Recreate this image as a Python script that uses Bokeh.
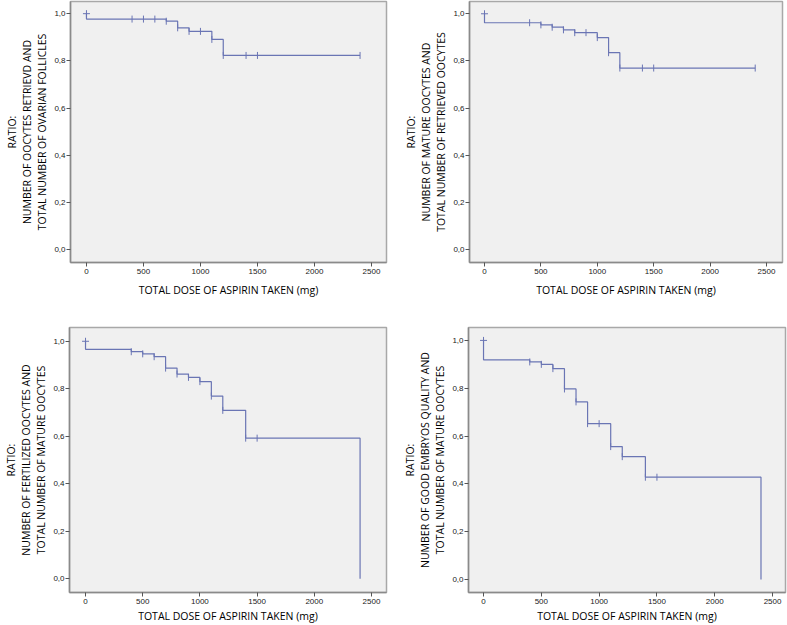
from bokeh.plotting import figure
from bokeh.layouts import row, column
from bokeh.models import FixedTicker, Range1d
from bokeh.embed import file_html
from bokeh.resources import INLINE
import numpy as np

# ---- shared axis data ----
x_ticks = [0, 500, 1000, 1500, 2000, 2500]
y_ticks = [0.0, 0.2, 0.4, 0.6, 0.8, 1.0]
y_tick_labels = ["0,0", "0,2", "0,4", "0,6", "0,8", "1,0"]
x_label = "TOTAL DOSE OF ASPIRIN TAKEN (mg)"

# ---- panel A: oocytes retrieved / ovarian follicles ----
a_ylabel = "RATIO:\nNUMBER OF OOCYTES RETRIEVD AND\nTOTAL NUMBER OF OVARIAN FOLLICLES"
a_times = [0, 0, 700, 800, 900, 1100, 1200, 2400]
a_surv = [1.0, 0.977, 0.968, 0.940, 0.925, 0.891, 0.823, 0.823]
a_censor = [400, 500, 600, 700, 800, 900, 1000, 1100, 1200, 1400, 1500, 2400]

# ---- panel B: mature oocytes / retrieved oocytes ----
b_ylabel = "RATIO:\nNUMBER OF MATURE OOCYTES AND\nTOTAL NUMBER OF RETRIEVED OOCYTES"
b_times = [0, 0, 500, 600, 700, 800, 1000, 1100, 1200, 2400]
b_surv = [1.0, 0.962, 0.953, 0.943, 0.932, 0.920, 0.899, 0.835, 0.770, 0.770]
b_censor = [400, 500, 600, 700, 800, 900, 1000, 1100, 1200, 1400, 1500, 2400]

# ---- panel C: fertilized oocytes / mature oocytes ----
c_ylabel = "RATIO:\nNUMBER OF FERTILIZED OOCYTES AND\nTOTAL NUMBER OF MATURE OOCYTES"
c_times = [0, 0, 400, 500, 600, 700, 800, 900, 1000, 1100, 1200, 1400, 2400]
c_surv = [1.0, 0.966, 0.956, 0.947, 0.935, 0.887, 0.862, 0.848, 0.830, 0.769, 0.709, 0.592, 0.0]
c_censor = [400, 500, 600, 700, 800, 900, 1000, 1100, 1200, 1400, 1500]

# ---- panel D: good quality embryos / mature oocytes ----
d_ylabel = "RATIO:\nNUMBER OF GOOD EMBRYOS QUALITY AND\nTOTAL NUMBER OF MATURE OOCYTES"
d_times = [0, 0, 400, 500, 600, 700, 800, 900, 1100, 1200, 1400, 2400]
d_surv = [1.0, 0.919, 0.910, 0.900, 0.882, 0.797, 0.743, 0.652, 0.556, 0.514, 0.428, 0.0]
d_censor = [400, 500, 600, 700, 800, 900, 1000, 1100, 1200, 1400, 1500]

LINE = "#6a75b4"
FONT = "Open Sans"
TICKFONT = "Liberation Sans"


def surv_at(times, surv, t):
    idx = max(i for i, tt in enumerate(times) if tt <= t)
    return surv[idx]


def panel(times, surv, censor, ylabel, width, height, bl, br, bt, bb, xr, yr, xstand):
    p = figure(width=width, height=height, output_backend="svg", toolbar_location=None,
               x_range=Range1d(*xr), y_range=Range1d(*yr),
               min_border_left=bl, min_border_right=br, min_border_top=bt, min_border_bottom=bb)
    p.background_fill_color = "#f0f0f0"
    p.border_fill_color = "white"
    p.outline_line_color = "#a8a8a8"
    p.outline_line_width = 1.5
    p.grid.visible = False
    p.step(times, surv, mode="after", line_color=LINE, line_width=1.2)
    cy = [surv_at(times, surv, t) for t in censor]
    p.scatter(censor, cy, marker="dash", angle=np.pi / 2, size=7, line_color=LINE, line_width=1)
    p.scatter([times[0]], [surv[0]], marker="cross", size=7, line_color=LINE, line_width=1)

    p.xaxis.ticker = FixedTicker(ticks=x_ticks)
    p.yaxis.ticker = FixedTicker(ticks=y_ticks)
    p.yaxis.major_label_overrides = {t: l for t, l in zip(y_ticks, y_tick_labels)}
    for ax in (p.xaxis, p.yaxis):
        ax.axis_line_color = "#8a8a8a"
        ax.axis_line_width = 1.5
        ax.major_tick_in = 0
        ax.major_tick_out = 4
        ax.major_tick_line_color = "#555555"
        ax.minor_tick_line_color = None
        ax.major_label_text_font = TICKFONT
        ax.major_label_text_font_size = "8px"
        ax.major_label_text_color = "#222222"
        ax.axis_label_text_font = FONT
        ax.axis_label_text_font_size = "10.5px"
        ax.axis_label_text_font_style = "normal"
        ax.axis_label_text_color = "#000000"
        ax.axis_label_text_line_height = 1.1
    p.xaxis.axis_label = x_label
    p.yaxis.axis_label = ylabel
    p.xaxis.major_label_standoff = 2
    p.yaxis.major_label_standoff = 1
    p.xaxis.axis_label_standoff = xstand
    p.yaxis.axis_label_standoff = 2
    return p


p1 = panel(a_times, a_surv, a_censor, a_ylabel, 392, 300, 70, 6, 1, 35,
           (-140, 2632), (-0.054, 1.0515), 6)
p2 = panel(b_times, b_surv, b_censor, b_ylabel, 395, 300, 77, 5, 1, 38,
           (-133, 2642), (-0.054, 1.052), 6)
p3 = panel(c_times, c_surv, c_censor, c_ylabel, 392, 325, 69, 6, 25, 32,
           (-140, 2631), (-0.058, 1.058), 2)
p4 = panel(d_times, d_surv, d_censor, d_ylabel, 395, 325, 76, 2, 27, 32,
           (-130, 2612), (-0.054, 1.054), 2)

layout = column(row(p1, p2), row(p3, p4))
open("out.html", "w").write(file_html(layout, INLINE))
